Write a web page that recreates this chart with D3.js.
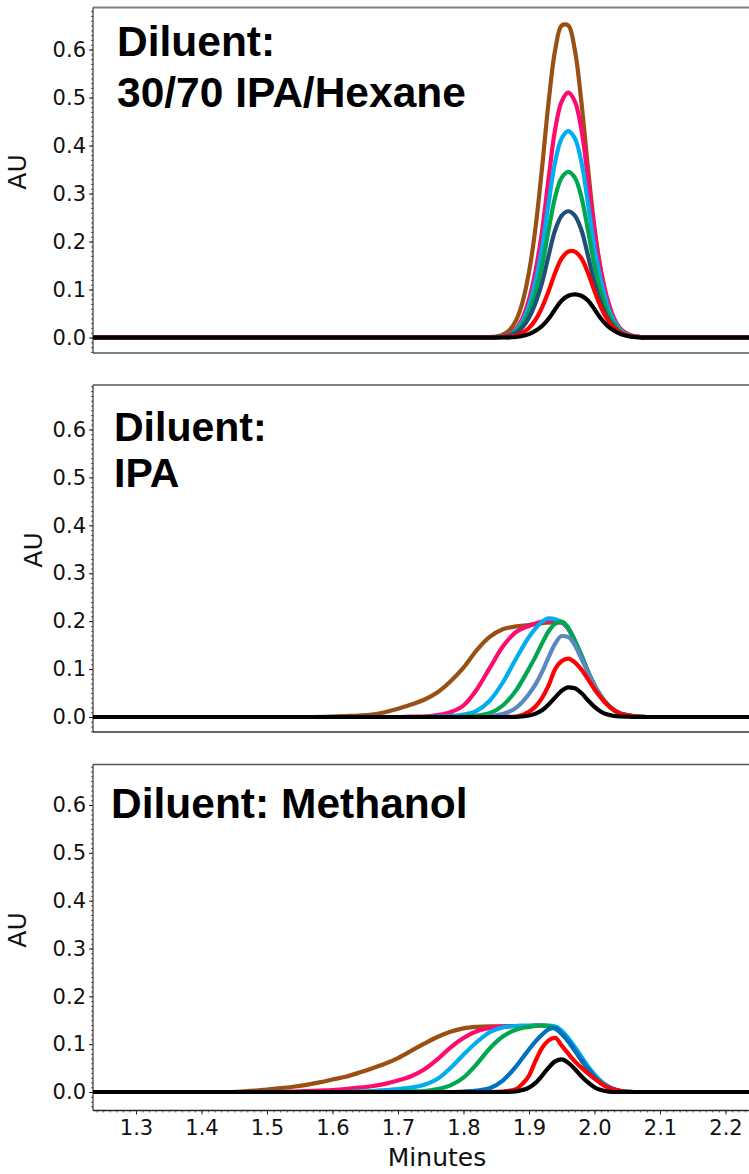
<!DOCTYPE html>
<html><head><meta charset="utf-8">
<script src="https://cdn.jsdelivr.net/npm/d3@7"></script>
<style>body{margin:0;background:#fff}</style>
</head><body>
<svg id="chart" width="749" height="1174"></svg>
<script>
// ---------- tick labels ----------
const yTickValues = [0.0, 0.1, 0.2, 0.3, 0.4, 0.5, 0.6];
const xTickValues = [1.3, 1.4, 1.5, 1.6, 1.7, 1.8, 1.9, 2.0, 2.1, 2.2];
const seriesOrder = ["brown", "pink", "lightblue", "green", "blue", "red", "black"];
const panelTitles = [["Diluent:", "30/70 IPA/Hexane"], ["Diluent:", "IPA"], ["Diluent: Methanol"]];

// ---------- Panel 1: 30/70 IPA/Hexane ----------
const hexX = [1.234,1.40,1.60,1.76,1.80,1.82,1.84,1.85,1.86,1.87,1.88,1.89,1.90,1.91,1.92,1.93,1.94,1.95,1.96,1.97,1.98,1.99,2.00,2.01,2.02,2.03,2.04,2.05,2.06,2.07,2.08,2.10,2.14,2.236];
const hexBrown = [0,0,0,0,0,0,0.001,0.002,0.006,0.015,0.035,0.073,0.136,0.229,0.354,0.491,0.599,0.650,0.650,0.599,0.491,0.354,0.229,0.136,0.073,0.035,0.015,0.006,0.002,0.001,0,0,0,0];
const hexPink = [0,0,0,0,0,0,0,0.001,0.003,0.008,0.018,0.040,0.079,0.139,0.222,0.332,0.434,0.492,0.510,0.492,0.434,0.332,0.222,0.139,0.079,0.040,0.018,0.008,0.003,0.001,0,0,0,0];
const hexLightBlue = [0,0,0,0,0,0,0,0.001,0.002,0.006,0.015,0.034,0.066,0.117,0.187,0.280,0.366,0.415,0.430,0.415,0.366,0.280,0.187,0.117,0.066,0.034,0.015,0.006,0.002,0.001,0,0,0,0];
const hexGreen = [0,0,0,0,0,0,0,0.001,0.002,0.005,0.012,0.027,0.053,0.094,0.150,0.224,0.293,0.333,0.345,0.333,0.293,0.224,0.150,0.094,0.053,0.027,0.012,0.005,0.002,0.001,0,0,0,0];
const hexBlue = [0,0,0,0,0,0,0,0,0.001,0.004,0.009,0.021,0.041,0.072,0.114,0.171,0.224,0.254,0.263,0.254,0.224,0.171,0.114,0.072,0.041,0.021,0.009,0.004,0.001,0,0,0,0,0];
const hexRed = [0,0,0,0,0,0,0,0,0.001,0.002,0.004,0.010,0.020,0.037,0.063,0.097,0.135,0.165,0.179,0.179,0.165,0.135,0.097,0.063,0.037,0.020,0.010,0.004,0.002,0.001,0,0,0,0];
const hexBlack = [0,0,0,0,0,0,0,0,0,0,0.001,0.003,0.007,0.014,0.024,0.039,0.059,0.077,0.087,0.090,0.087,0.077,0.059,0.039,0.024,0.014,0.007,0.003,0.001,0,0,0,0,0];

// ---------- Panel 2: IPA ----------
const ipaX = [1.234,1.40,1.50,1.56,1.60,1.62,1.64,1.66,1.68,1.70,1.72,1.74,1.76,1.78,1.80,1.82,1.84,1.86,1.88,1.90,1.91,1.92,1.93,1.94,1.95,1.96,1.97,1.98,1.99,2.00,2.01,2.02,2.03,2.04,2.06,2.08,2.12,2.236];
const ipaBrown = [0,0,0,0,0.001,0.002,0.003,0.005,0.010,0.017,0.026,0.036,0.051,0.074,0.103,0.139,0.167,0.183,0.189,0.192,0.194,0.196,0.197,0.198,0.197,0.184,0.159,0.128,0.095,0.066,0.043,0.026,0.014,0.007,0.002,0,0,0];
const ipaPink = [0,0,0,0,0,0,0,0,0,0,0.001,0.001,0.004,0.010,0.024,0.057,0.102,0.147,0.177,0.190,0.195,0.199,0.201,0.200,0.197,0.184,0.159,0.128,0.095,0.066,0.043,0.026,0.014,0.007,0.002,0,0,0];
const ipaLightBlue = [0,0,0,0,0,0,0,0,0,0,0,0,0.001,0.002,0.005,0.013,0.034,0.072,0.121,0.167,0.185,0.199,0.206,0.204,0.198,0.185,0.159,0.128,0.095,0.066,0.043,0.026,0.014,0.007,0.002,0,0,0];
const ipaGreen = [0,0,0,0,0,0,0,0,0,0,0,0,0,0,0.001,0.003,0.008,0.024,0.055,0.101,0.126,0.154,0.179,0.195,0.199,0.186,0.159,0.128,0.095,0.066,0.043,0.026,0.014,0.007,0.002,0,0,0];
const ipaBlue = [0,0,0,0,0,0,0,0,0,0,0,0,0,0,0,0,0.002,0.006,0.019,0.048,0.068,0.094,0.125,0.153,0.169,0.167,0.150,0.122,0.093,0.065,0.042,0.026,0.014,0.007,0.002,0,0,0];
const ipaRed = [0,0,0,0,0,0,0,0,0,0,0,0,0,0,0,0,0,0,0.001,0.011,0.022,0.040,0.066,0.100,0.117,0.122,0.114,0.099,0.079,0.058,0.040,0.025,0.014,0.007,0.002,0,0,0];
const ipaBlack = [0,0,0,0,0,0,0,0,0,0,0,0,0,0,0,0,0,0,0,0.003,0.007,0.014,0.026,0.041,0.055,0.062,0.060,0.050,0.035,0.021,0.011,0.005,0.002,0.001,0,0,0,0];

// ---------- Panel 3: Methanol ----------
const meoX = [1.234,1.40,1.44,1.46,1.48,1.50,1.52,1.54,1.56,1.58,1.60,1.62,1.64,1.66,1.68,1.70,1.72,1.74,1.76,1.78,1.80,1.82,1.84,1.86,1.88,1.89,1.90,1.91,1.92,1.93,1.94,1.95,1.96,1.97,1.98,1.99,2.00,2.01,2.02,2.03,2.04,2.06,2.08,2.12,2.236];
const meoBrown = [0,0,0,0.001,0.003,0.005,0.008,0.011,0.015,0.020,0.026,0.032,0.040,0.049,0.059,0.071,0.086,0.101,0.115,0.126,0.133,0.136,0.137,0.137,0.138,0.138,0.138,0.139,0.139,0.138,0.133,0.122,0.106,0.087,0.067,0.049,0.032,0.019,0.010,0.005,0.002,0,0,0,0];
const meoPink = [0,0,0,0,0,0,0,0.001,0.002,0.003,0.004,0.006,0.009,0.012,0.017,0.024,0.033,0.047,0.068,0.093,0.113,0.127,0.134,0.137,0.138,0.138,0.138,0.139,0.139,0.138,0.133,0.122,0.106,0.087,0.067,0.049,0.032,0.019,0.010,0.005,0.002,0,0,0,0];
const meoLightBlue = [0,0,0,0,0,0,0,0,0,0,0,0,0.001,0.002,0.004,0.006,0.009,0.015,0.027,0.050,0.078,0.104,0.125,0.135,0.138,0.139,0.139,0.139,0.139,0.139,0.137,0.128,0.113,0.094,0.074,0.054,0.037,0.023,0.013,0.006,0.002,0,0,0,0];
const meoGreen = [0,0,0,0,0,0,0,0,0,0,0,0,0,0,0,0,0.001,0.002,0.006,0.014,0.030,0.058,0.091,0.116,0.130,0.134,0.136,0.138,0.139,0.138,0.133,0.122,0.106,0.087,0.067,0.049,0.032,0.019,0.010,0.005,0.002,0,0,0,0];
const meoBlue = [0,0,0,0,0,0,0,0,0,0,0,0,0,0,0,0,0,0,0,0,0.001,0.003,0.008,0.024,0.053,0.071,0.089,0.106,0.120,0.131,0.134,0.122,0.106,0.087,0.067,0.049,0.032,0.019,0.010,0.005,0.002,0,0,0,0];
const meoRed = [0,0,0,0,0,0,0,0,0,0,0,0,0,0,0,0,0,0,0,0,0,0,0,0.001,0.006,0.017,0.034,0.065,0.092,0.108,0.113,0.097,0.080,0.064,0.051,0.039,0.028,0.018,0.010,0.005,0.002,0,0,0,0];
const meoBlack = [0,0,0,0,0,0,0,0,0,0,0,0,0,0,0,0,0,0,0,0,0,0,0,0,0.001,0.004,0.009,0.019,0.034,0.051,0.064,0.068,0.061,0.048,0.033,0.020,0.010,0.004,0.001,0,0,0,0,0,0];

// ---------- colours ----------
const colorsHex = {brown:"#9a5012", pink:"#ff0a6e", lightblue:"#00aeef", green:"#00a650", blue:"#1f4e79", red:"#ff0000", black:"#000000"};
const colorsIpa = Object.assign({}, colorsHex, {blue:"#5b88c2"});
const colorsMeo = Object.assign({}, colorsHex, {blue:"#0070c0"});

const panels = [
  {x: hexX, s: {brown:hexBrown, pink:hexPink, lightblue:hexLightBlue, green:hexGreen, blue:hexBlue, red:hexRed, black:hexBlack}, colors: colorsHex,
   curve: d3.curveCatmullRom.alpha(0.5),
   top: 7.5, bottom: 353, y0: 337.5, y6: 49.5, topColor:"#7f7f7f", topW:2, botColor:"#7f7f7f", botW:2,
   titleX: 117, titleY: [56, 107], titleSize: 42.5, auX: 17, auY: 172},
  {x: ipaX, s: {brown:ipaBrown, pink:ipaPink, lightblue:ipaLightBlue, green:ipaGreen, blue:ipaBlue, red:ipaRed, black:ipaBlack}, colors: colorsIpa,
   curve: d3.curveMonotoneX,
   top: 385, bottom: 732, y0: 717, y6: 429.5, topColor:"#7f7f7f", topW:2, botColor:"#333", botW:1.5,
   titleX: 114, titleY: [441, 487], titleSize: 41, auX: 33, auY: 550},
  {x: meoX, s: {brown:meoBrown, pink:meoPink, lightblue:meoLightBlue, green:meoGreen, blue:meoBlue, red:meoRed, black:meoBlack}, colors: colorsMeo,
   curve: d3.curveMonotoneX,
   top: 764.5, bottom: 1110.5, y0: 1092, y6: 805, topColor:"#555", topW:1.5, botColor:"#222", botW:1.5,
   titleX: 111, titleY: [818], titleSize: 42.5, auX: 17, auY: 930}
];

const svg = d3.select("#chart");
const left = 93, right = 749;
const x = d3.scaleLinear().domain([1.2344, 2.2359]).range([left, right]);
const tickFont = "'DejaVu Sans', Verdana, sans-serif";

panels.forEach((p, pi) => {
  const y = d3.scaleLinear().domain([0, 0.6]).range([p.y0, p.y6]);
  const g = svg.append("g");
  const clipId = "clip" + pi;
  svg.append("clipPath").attr("id", clipId).append("rect")
    .attr("x", left).attr("y", p.top).attr("width", right - left + 5).attr("height", p.bottom - p.top);

  // frame
  g.append("line").attr("x1", left).attr("x2", right + 5).attr("y1", p.top).attr("y2", p.top)
    .attr("stroke", p.topColor).attr("stroke-width", p.topW);
  g.append("line").attr("x1", left).attr("x2", right + 5).attr("y1", p.bottom).attr("y2", p.bottom)
    .attr("stroke", p.botColor).attr("stroke-width", p.botW);

  // y minor ticks
  const lo = Math.ceil(y.invert(p.bottom) * 100), hi = Math.floor(y.invert(p.top) * 100);
  const minorVals = d3.range(lo, hi + 1).map(v => v / 100);
  const minorAxis = d3.axisLeft(y).tickValues(minorVals).tickSize(2).tickFormat("");
  const gm = g.append("g").attr("transform", `translate(${left},0)`).call(minorAxis);
  gm.select(".domain").remove();
  gm.selectAll("line").attr("stroke", "#333").attr("stroke-width", 0.8);

  // y major axis
  const yAxis = d3.axisLeft(y).tickValues(yTickValues).tickFormat(d3.format(".1f")).tickSize(4).tickPadding(3);
  const ga = g.append("g").attr("transform", `translate(${left},0)`).call(yAxis);
  ga.select(".domain").remove();
  ga.selectAll("line").attr("stroke", "#222");
  ga.selectAll("text").attr("font-family", tickFont).attr("font-size", 21).attr("fill", "#111");

  // left axis line
  g.append("line").attr("x1", left).attr("x2", left).attr("y1", p.top).attr("y2", p.bottom)
    .attr("stroke", "#333").attr("stroke-width", 1.2);

  // AU label
  g.append("text").attr("transform", `translate(${p.auX},${p.auY}) rotate(-90)`)
    .attr("text-anchor", "middle").attr("dominant-baseline", "central")
    .attr("font-family", tickFont).attr("font-size", 25).attr("fill", "#111").text("AU");

  // series
  const line = d3.line().x(d => x(d[0])).y(d => y(d[1])).curve(p.curve);
  const lg = g.append("g").attr("clip-path", `url(#${clipId})`);
  seriesOrder.forEach(name => {
    const vals = p.s[name];
    const pts = p.x.map((xv, i) => [xv, vals[i]]);
    lg.append("path").datum(pts).attr("d", line)
      .attr("fill", "none").attr("stroke", p.colors[name]).attr("stroke-width", 4.2)
      .attr("stroke-linejoin", "round").attr("stroke-linecap", "round");
  });

  // title (one text element per line)
  panelTitles[pi].forEach((line, li) => {
    g.append("text").attr("font-family", "'Liberation Sans', Arial, sans-serif")
      .attr("font-weight", "bold").attr("font-size", p.titleSize).attr("fill", "#000")
      .attr("x", p.titleX).attr("y", p.titleY[li]).text(line);
  });

  // x axis (bottom panel only)
  if (pi === 2) {
    const minorX = d3.range(124, 224).map(v => v / 100);
    const mx = d3.axisBottom(x).tickValues(minorX).tickSize(2).tickFormat("");
    const gmx = g.append("g").attr("transform", `translate(0,${p.bottom})`).call(mx);
    gmx.select(".domain").remove();
    gmx.selectAll("line").attr("stroke", "#333").attr("stroke-width", 0.8);
    const xAxis = d3.axisBottom(x).tickValues(xTickValues).tickFormat(d3.format(".1f")).tickSize(4).tickPadding(6);
    const gx = g.append("g").attr("transform", `translate(0,${p.bottom})`).call(xAxis);
    gx.select(".domain").remove();
    gx.selectAll("line").attr("stroke", "#222");
    gx.selectAll("text").attr("font-family", tickFont).attr("font-size", 21).attr("fill", "#111");
    g.append("text").attr("x", 437).attr("y", 1166).attr("text-anchor", "middle")
      .attr("font-family", tickFont).attr("font-size", 25).attr("fill", "#111").text("Minutes");
  }
});
</script>
</body></html>
